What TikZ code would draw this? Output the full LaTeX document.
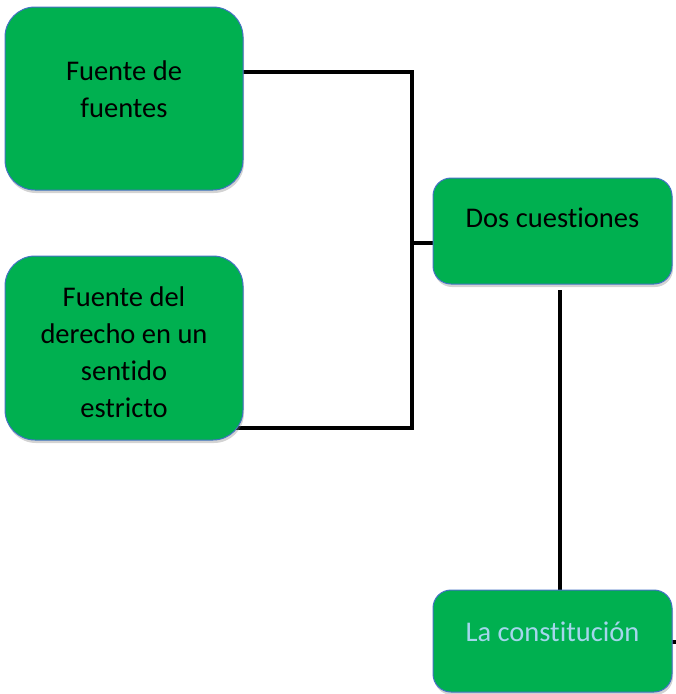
\documentclass[tikz,border=0pt]{standalone}
\usepackage{fontspec}
\setmainfont[Ligatures=NoCommon]{Carlito}
\usetikzlibrary{positioning,shadows}
\pgfdeclarelayer{background}
\pgfsetlayers{background,main}
\definecolor{verde}{RGB}{0,176,80}
\definecolor{borde}{RGB}{68,114,196}
\definecolor{celeste}{RGB}{165,214,236}

\begin{document}
\begin{tikzpicture}[x=1pt,y=-1pt,on grid,
  caja/.style={draw=borde, line width=1pt, fill=verde, rounded corners=30pt,
    minimum width=238pt, drop shadow={opacity=.35,shadow xshift=1pt,shadow yshift=-3pt}},
  cajita/.style={caja, rounded corners=18pt},
  texto/.style={align=center, font=\fontsize{28.5}{37}\selectfont},
  linea/.style={line width=4pt}]
   \useasboundingbox (0,0) rectangle (676,694);

   \node[caja, minimum height=183pt,
     label={[texto,name=ffT,yshift=9.5pt]center:{Fuente de\\fuentes}}] (ff) at (124,98.5) {};
   \node[caja, minimum height=184pt, below=249.5pt of ff,
     label={[texto,name=fdT,yshift=-4.5pt]center:{Fuente del\\derecho en un\\sentido\\estricto}}] (fd) {};
   \node[cajita, minimum width=239pt, minimum height=106pt,
     label={[texto,name=dcT,yshift=13pt]center:Dos cuestiones}] (dc) at (552.5,231) {};
   \node[cajita, minimum width=239pt, minimum height=102pt, below=410pt of dc,
     label={[texto,name=lcT,text=celeste,yshift=9pt]center:La constitución}] (lc) {};

   % conectores
   \coordinate (arriba) at (412,72);
   \coordinate (medio) at (412,243);
   \coordinate (abajo) at (412,428);
   \coordinate (sale) at (560,290);
   \coordinate (cola) at (690,642);
   \begin{pgfonlayer}{background}
   \draw[linea] (ff.center |- arriba) -- (arriba) -- (abajo) -- (fd.center |- abajo);
   \draw[linea] (medio) -- (medio -| dc.center);
   \draw[linea] (sale) -- (sale |- lc.center);
   \draw[linea] (lc.center |- cola) -- (cola);
   \end{pgfonlayer}
\end{tikzpicture}
\end{document}
